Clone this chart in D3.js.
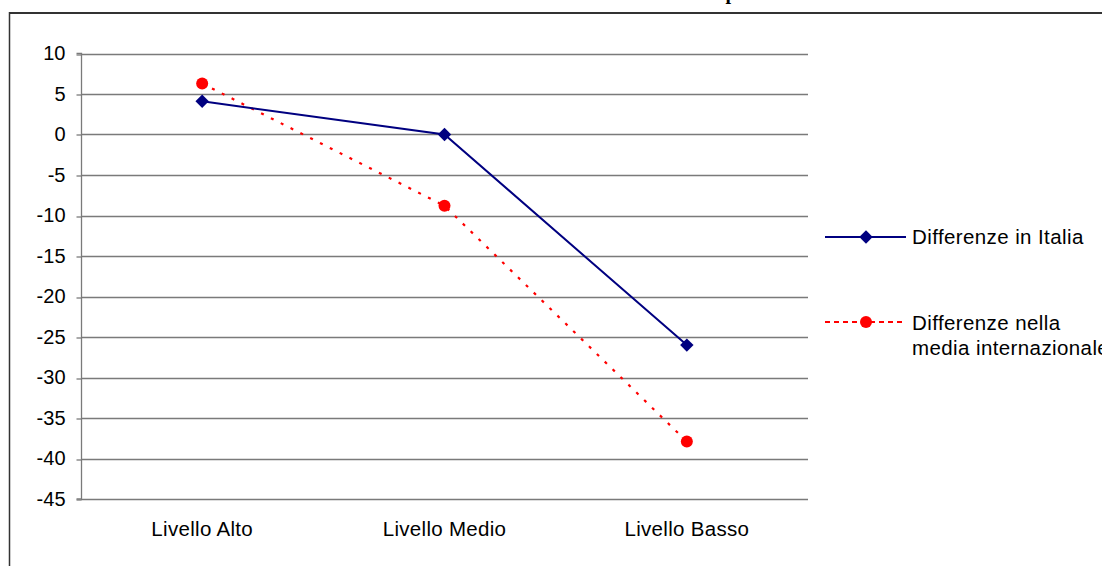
<!DOCTYPE html>
<html>
<head>
<meta charset="utf-8">
<script src="https://cdn.jsdelivr.net/npm/d3@7"></script>
<style>
  html, body { margin: 0; padding: 0; background: #fff; }
  svg { display: block; }
  text { font-family: "Liberation Sans", Arial, sans-serif; }
</style>
</head>
<body>
<svg id="chart" width="1102" height="566"></svg>
<script>
const categories = ["Livello Alto", "Livello Medio", "Livello Basso"];
const italia = [4.1, 0, -26];
const internazionale = [6.3, -8.8, -37.9];
const yTicks = [10, 5, 0, -5, -10, -15, -20, -25, -30, -35, -40, -45];
const seriesNames = ["Differenze in Italia", ["Differenze nella", "media internazionale"]];

const svg = d3.select("#chart");

// outer frame (top and left edges visible)
svg.append("line").attr("x1", 9).attr("x2", 1102).attr("y1", 13).attr("y2", 13)
  .attr("stroke", "#333").attr("stroke-width", 2);
svg.append("line").attr("x1", 9.5).attr("x2", 9.5).attr("y1", 12).attr("y2", 566)
  .attr("stroke", "#333").attr("stroke-width", 1.5);

// title (cut off at top in the reference)
svg.append("text").attr("x", 731).attr("y", -1)
  .attr("text-anchor", "middle")
  .style("font-family", "'Liberation Serif', 'Times New Roman', serif")
  .style("font-weight", "bold").style("font-size", "20px")
  .text("p");

const pLeft = 81, pRight = 808, pTop = 53.5, pBottom = 499;
const x = d3.scaleBand().domain(categories).range([pLeft, pRight]);
const y = d3.scaleLinear().domain([-45, 10]).range([pBottom, pTop]);
const cx = c => x(c) + x.bandwidth() / 2;

// gridlines
svg.append("g").selectAll("line").data(yTicks).join("line")
  .attr("x1", pLeft).attr("x2", pRight)
  .attr("y1", d => Math.round(y(d)) + 0.5).attr("y2", d => Math.round(y(d)) + 0.5)
  .attr("stroke", "#7a7a7a").attr("stroke-width", 1.3);

// y axis
const yAxis = d3.axisLeft(y).tickValues(yTicks).tickSize(5).tickPadding(11)
  .tickFormat(d => String(d));
const gy = svg.append("g").attr("transform", `translate(${pLeft + 0.5},0)`).call(yAxis);
gy.select(".domain").attr("stroke", "#7a7a7a").attr("stroke-width", 1.3)
  .attr("d", `M-5,${y(10)}H0V${y(-45)}H-5`);
gy.selectAll(".tick line").attr("stroke", "#7a7a7a").attr("stroke-width", 1.3)
  .attr("transform", d => `translate(0,${Math.round(y(d)) + 0.5 - y(d)})`);
gy.selectAll(".tick text").style("font-size", "20px").attr("fill", "#000")
  .style("font-family", "'Liberation Sans', Arial, sans-serif");

// x axis labels
const xAxis = d3.axisBottom(x).tickSize(0).tickPadding(22);
const gx = svg.append("g").attr("transform", `translate(0,${pBottom})`).call(xAxis);
gx.select(".domain").remove();
gx.selectAll(".tick text").style("font-size", "20.5px").attr("fill", "#000")
  .style("letter-spacing", "0.3px")
  .style("font-family", "'Liberation Sans', Arial, sans-serif");

// lines
const line = d3.line().x((d, i) => cx(categories[i])).y(d => y(d));
svg.append("path").datum(internazionale).attr("d", line)
  .attr("fill", "none").attr("stroke", "#ff0000").attr("stroke-width", 2.2)
  .attr("stroke-dasharray", "3,8");
svg.append("path").datum(italia).attr("d", line)
  .attr("fill", "none").attr("stroke", "#000080").attr("stroke-width", 2);

const diamond = d3.symbol().type(d3.symbolSquare).size(90);
svg.append("g").selectAll("path").data(italia).join("path")
  .attr("d", diamond())
  .attr("transform", (d, i) => `translate(${cx(categories[i])},${y(d)}) rotate(45)`)
  .attr("fill", "#000080");
svg.append("g").selectAll("circle").data(internazionale).join("circle")
  .attr("cx", (d, i) => cx(categories[i])).attr("cy", d => y(d)).attr("r", 6)
  .attr("fill", "#ff0000");

// legend
const lg = svg.append("g").style("font-size", "20.5px").style("letter-spacing", "0.4px");
lg.append("line").attr("x1", 825).attr("x2", 906).attr("y1", 237).attr("y2", 237)
  .attr("stroke", "#000080").attr("stroke-width", 2);
lg.append("path").attr("d", diamond()).attr("transform", "translate(866,237) rotate(45)")
  .attr("fill", "#000080");
lg.append("text").attr("x", 912).attr("y", 244)
  .text(seriesNames[0]);

lg.append("line").attr("x1", 825).attr("x2", 906).attr("y1", 322).attr("y2", 322)
  .attr("stroke", "#ff0000").attr("stroke-width", 2.2).attr("stroke-dasharray", "5,4");
lg.append("circle").attr("cx", 866).attr("cy", 322).attr("r", 6).attr("fill", "#ff0000");
const t2 = lg.append("text").attr("x", 912).attr("y", 330);
t2.append("tspan").attr("x", 912).attr("dy", 0).text(seriesNames[1][0]);
t2.append("tspan").attr("x", 912).attr("dy", 25).text(seriesNames[1][1]);
</script>
</body>
</html>
